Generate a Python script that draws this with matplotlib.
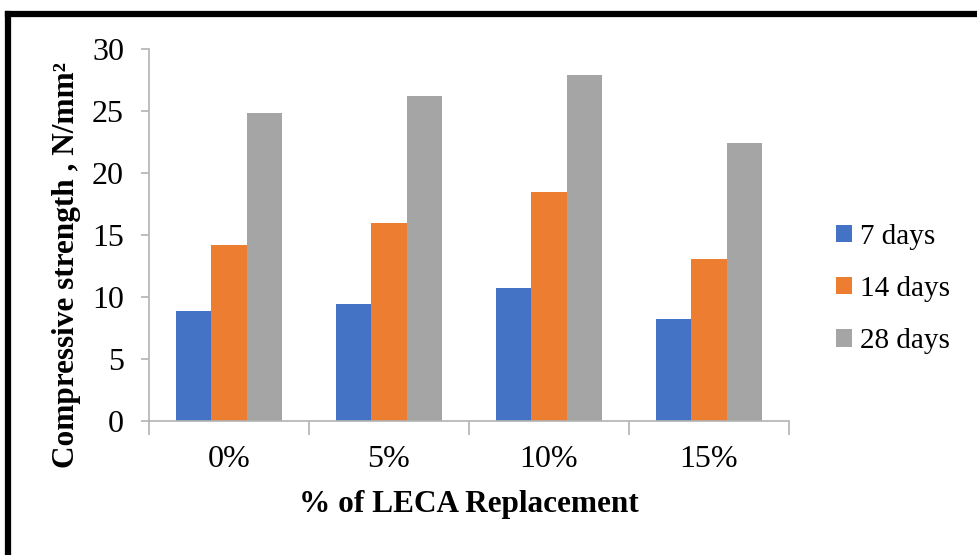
import numpy as np
import matplotlib
matplotlib.use('Agg')
import matplotlib.pyplot as plt
from matplotlib.lines import Line2D

# data
categories = ['0%', '5%', '10%', '15%']
days_7 = [8.9, 9.45, 10.75, 8.2]
days_14 = [14.2, 15.95, 18.5, 13.05]
days_28 = [24.85, 26.2, 27.9, 22.4]
series_names = ['7 days', '14 days', '28 days']
colors = ['#4472C4', '#ED7D31', '#A5A5A5']

plt.rcParams['font.family'] = ['Liberation Serif', 'DejaVu Serif']

fig = plt.figure(figsize=(9.78, 5.55), dpi=100)
ax = fig.add_axes([149 / 978, 1 - 421 / 555, 640 / 978, 372 / 555])

x = np.arange(len(categories))
w = 0.221
for i, (vals, name) in enumerate(zip([days_7, days_14, days_28], series_names)):
    ax.bar(x + (i - 1) * w, vals, width=w, color=colors[i], label=name)

ax.set_xlim(-0.5, len(categories) - 0.5)
ax.set_ylim(0, 30)
ax.set_yticks(range(0, 31, 5))
ax.set_xticks(x)
ax.set_xticklabels(categories)
ax.set_xticks(np.arange(-0.5, len(categories), 1), minor=True)

for s in ['top', 'right']:
    ax.spines[s].set_visible(False)
for s in ['left', 'bottom']:
    ax.spines[s].set_color('#b3b3b3')
    ax.spines[s].set_linewidth(1.2)

ax.tick_params(axis='y', length=6, width=1.2, color='#b3b3b3', labelsize=23, pad=12)
ax.tick_params(axis='x', which='major', length=0, labelsize=23, pad=17)
ax.tick_params(axis='x', which='minor', length=10, width=1.2, color='#b3b3b3')

ax.set_xlabel('% of LECA Replacement', fontsize=22.5, fontweight='bold', labelpad=12)
ax.set_ylabel('Compressive strength , N/mm²', fontsize=22.5, fontweight='bold')
ax.yaxis.set_label_coords(-0.107, 0.42)

leg = ax.legend(loc='center left', bbox_to_anchor=(821 / 978, 1 - 289 / 555),
                bbox_transform=fig.transFigure, frameon=False, fontsize=21,
                handlelength=0.55, handleheight=0.55, handletextpad=0.3,
                labelspacing=0.9, borderpad=0)

# black frame on the left and top of the picture
fig.add_artist(Line2D([8 / 978, 8 / 978], [0, 1 - 14 / 555], color='black', lw=4.5,
                      transform=fig.transFigure, solid_capstyle='projecting'))
fig.add_artist(Line2D([8 / 978, 1], [1 - 14 / 555, 1 - 14 / 555], color='black', lw=4.5,
                      transform=fig.transFigure, solid_capstyle='projecting'))

fig.savefig('out.png', dpi=100)
